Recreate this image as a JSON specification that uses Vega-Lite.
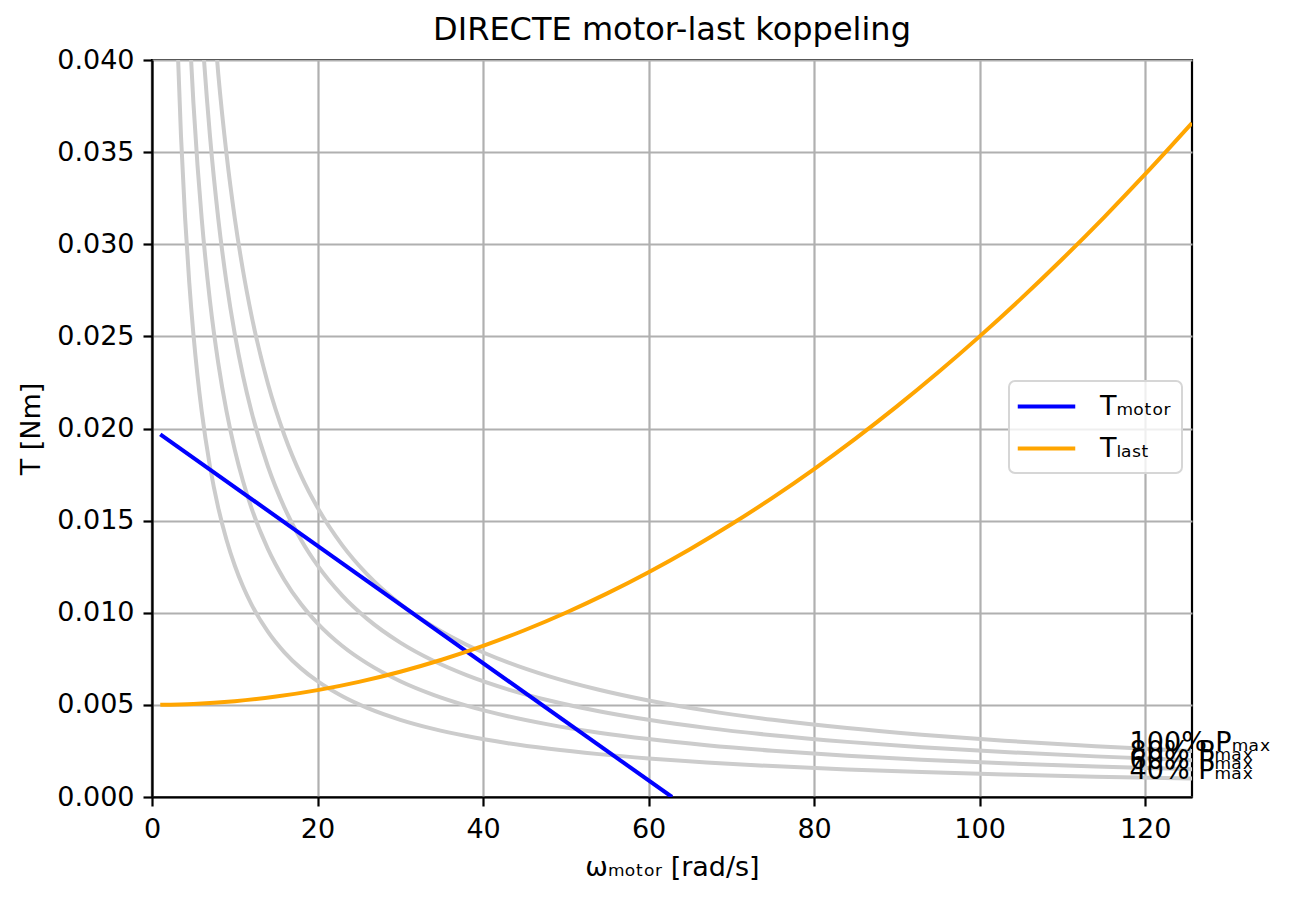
{
  "$schema": "https://vega.github.io/schema/vega-lite/v6.json",
  "width": 1040,
  "height": 737,
  "autosize": {"type": "none"},
  "padding": {"left": 152, "top": 60, "right": 98, "bottom": 103},
  "background": "white",
  "title": {
    "text": "DIRECTE motor-last koppeling",
    "fontSize": 32,
    "fontWeight": "normal",
    "color": "black",
    "anchor": "middle",
    "baseline": "alphabetic",
    "offset": 18,
    "dy": 44
  },
  "datasets": {
    "power": [
      {"p": "40%", "w": 2.5, "T": 0.050266}, {"p": "40%", "w": 3, "T": 0.041888}, {"p": "40%", "w": 3.5, "T": 0.035904},
      {"p": "40%", "w": 4, "T": 0.031416}, {"p": "40%", "w": 4.5, "T": 0.027925}, {"p": "40%", "w": 5, "T": 0.025133},
      {"p": "40%", "w": 5.5, "T": 0.022848}, {"p": "40%", "w": 6, "T": 0.020944}, {"p": "40%", "w": 7, "T": 0.017952},
      {"p": "40%", "w": 8, "T": 0.015708}, {"p": "40%", "w": 9, "T": 0.013963}, {"p": "40%", "w": 10, "T": 0.012566},
      {"p": "40%", "w": 11, "T": 0.011424}, {"p": "40%", "w": 12, "T": 0.010472}, {"p": "40%", "w": 14, "T": 0.008976},
      {"p": "40%", "w": 16, "T": 0.007854}, {"p": "40%", "w": 18, "T": 0.006981}, {"p": "40%", "w": 20, "T": 0.006283},
      {"p": "40%", "w": 23, "T": 0.005464}, {"p": "40%", "w": 26, "T": 0.004833}, {"p": "40%", "w": 30, "T": 0.004189},
      {"p": "40%", "w": 34, "T": 0.003696}, {"p": "40%", "w": 38, "T": 0.003307}, {"p": "40%", "w": 43, "T": 0.002922},
      {"p": "40%", "w": 48, "T": 0.002618}, {"p": "40%", "w": 54, "T": 0.002327}, {"p": "40%", "w": 60, "T": 0.002094},
      {"p": "40%", "w": 67, "T": 0.001876}, {"p": "40%", "w": 75, "T": 0.001676}, {"p": "40%", "w": 84, "T": 0.001496},
      {"p": "40%", "w": 93, "T": 0.001351}, {"p": "40%", "w": 103, "T": 0.00122}, {"p": "40%", "w": 114, "T": 0.001102},
      {"p": "40%", "w": 125.66, "T": 0.001},

      {"p": "60%", "w": 4, "T": 0.047124}, {"p": "60%", "w": 4.5, "T": 0.041888}, {"p": "60%", "w": 5, "T": 0.037699},
      {"p": "60%", "w": 5.5, "T": 0.034272}, {"p": "60%", "w": 6, "T": 0.031416}, {"p": "60%", "w": 7, "T": 0.026928},
      {"p": "60%", "w": 8, "T": 0.023562}, {"p": "60%", "w": 9, "T": 0.020944}, {"p": "60%", "w": 10, "T": 0.01885},
      {"p": "60%", "w": 11, "T": 0.017136}, {"p": "60%", "w": 12, "T": 0.015708}, {"p": "60%", "w": 14, "T": 0.013464},
      {"p": "60%", "w": 16, "T": 0.011781}, {"p": "60%", "w": 18, "T": 0.010472}, {"p": "60%", "w": 20, "T": 0.009425},
      {"p": "60%", "w": 23, "T": 0.008195}, {"p": "60%", "w": 26, "T": 0.00725}, {"p": "60%", "w": 30, "T": 0.006283},
      {"p": "60%", "w": 34, "T": 0.005544}, {"p": "60%", "w": 38, "T": 0.00496}, {"p": "60%", "w": 43, "T": 0.004384},
      {"p": "60%", "w": 48, "T": 0.003927}, {"p": "60%", "w": 54, "T": 0.003491}, {"p": "60%", "w": 60, "T": 0.003142},
      {"p": "60%", "w": 67, "T": 0.002813}, {"p": "60%", "w": 75, "T": 0.002513}, {"p": "60%", "w": 84, "T": 0.002244},
      {"p": "60%", "w": 93, "T": 0.002027}, {"p": "60%", "w": 103, "T": 0.00183}, {"p": "60%", "w": 114, "T": 0.001653},
      {"p": "60%", "w": 125.66, "T": 0.0015},

      {"p": "80%", "w": 5.5, "T": 0.045696}, {"p": "80%", "w": 6, "T": 0.041888}, {"p": "80%", "w": 7, "T": 0.035904},
      {"p": "80%", "w": 8, "T": 0.031416}, {"p": "80%", "w": 9, "T": 0.027925}, {"p": "80%", "w": 10, "T": 0.025133},
      {"p": "80%", "w": 11, "T": 0.022848}, {"p": "80%", "w": 12, "T": 0.020944}, {"p": "80%", "w": 14, "T": 0.017952},
      {"p": "80%", "w": 16, "T": 0.015708}, {"p": "80%", "w": 18, "T": 0.013963}, {"p": "80%", "w": 20, "T": 0.012566},
      {"p": "80%", "w": 23, "T": 0.010927}, {"p": "80%", "w": 26, "T": 0.009666}, {"p": "80%", "w": 30, "T": 0.008378},
      {"p": "80%", "w": 34, "T": 0.007392}, {"p": "80%", "w": 38, "T": 0.006614}, {"p": "80%", "w": 43, "T": 0.005845},
      {"p": "80%", "w": 48, "T": 0.005236}, {"p": "80%", "w": 54, "T": 0.004654}, {"p": "80%", "w": 60, "T": 0.004189},
      {"p": "80%", "w": 67, "T": 0.003751}, {"p": "80%", "w": 75, "T": 0.003351}, {"p": "80%", "w": 84, "T": 0.002992},
      {"p": "80%", "w": 93, "T": 0.002702}, {"p": "80%", "w": 103, "T": 0.00244}, {"p": "80%", "w": 114, "T": 0.002205},
      {"p": "80%", "w": 125.66, "T": 0.002},

      {"p": "100%", "w": 7, "T": 0.04488}, {"p": "100%", "w": 8, "T": 0.03927}, {"p": "100%", "w": 9, "T": 0.034907},
      {"p": "100%", "w": 10, "T": 0.031416}, {"p": "100%", "w": 11, "T": 0.02856}, {"p": "100%", "w": 12, "T": 0.02618},
      {"p": "100%", "w": 14, "T": 0.02244}, {"p": "100%", "w": 16, "T": 0.019635}, {"p": "100%", "w": 18, "T": 0.017453},
      {"p": "100%", "w": 20, "T": 0.015708}, {"p": "100%", "w": 23, "T": 0.013659}, {"p": "100%", "w": 26, "T": 0.012083},
      {"p": "100%", "w": 30, "T": 0.010472}, {"p": "100%", "w": 34, "T": 0.00924}, {"p": "100%", "w": 38, "T": 0.008267},
      {"p": "100%", "w": 43, "T": 0.007306}, {"p": "100%", "w": 48, "T": 0.006545}, {"p": "100%", "w": 54, "T": 0.005818},
      {"p": "100%", "w": 60, "T": 0.005236}, {"p": "100%", "w": 67, "T": 0.004689}, {"p": "100%", "w": 75, "T": 0.004189},
      {"p": "100%", "w": 84, "T": 0.00374}, {"p": "100%", "w": 93, "T": 0.003378}, {"p": "100%", "w": 103, "T": 0.00305},
      {"p": "100%", "w": 114, "T": 0.002756}, {"p": "100%", "w": 125.66, "T": 0.0025}
    ],
    "torque": [
      {"curve": "Tₘₒₜₒᵣ", "w": 1, "T": 0.019682},
      {"curve": "Tₘₒₜₒᵣ", "w": 62.83, "T": 0},
      {"curve": "Tₗₐₛₜ", "w": 1, "T": 0.005002}, {"curve": "Tₗₐₛₜ", "w": 5, "T": 0.00505},
      {"curve": "Tₗₐₛₜ", "w": 10, "T": 0.0052}, {"curve": "Tₗₐₛₜ", "w": 15, "T": 0.00545},
      {"curve": "Tₗₐₛₜ", "w": 20, "T": 0.0058}, {"curve": "Tₗₐₛₜ", "w": 25, "T": 0.00625},
      {"curve": "Tₗₐₛₜ", "w": 30, "T": 0.0068}, {"curve": "Tₗₐₛₜ", "w": 35, "T": 0.00745},
      {"curve": "Tₗₐₛₜ", "w": 40, "T": 0.0082}, {"curve": "Tₗₐₛₜ", "w": 45, "T": 0.00905},
      {"curve": "Tₗₐₛₜ", "w": 50, "T": 0.01}, {"curve": "Tₗₐₛₜ", "w": 55, "T": 0.01105},
      {"curve": "Tₗₐₛₜ", "w": 60, "T": 0.0122}, {"curve": "Tₗₐₛₜ", "w": 65, "T": 0.01345},
      {"curve": "Tₗₐₛₜ", "w": 70, "T": 0.0148}, {"curve": "Tₗₐₛₜ", "w": 75, "T": 0.01625},
      {"curve": "Tₗₐₛₜ", "w": 80, "T": 0.0178}, {"curve": "Tₗₐₛₜ", "w": 85, "T": 0.01945},
      {"curve": "Tₗₐₛₜ", "w": 90, "T": 0.0212}, {"curve": "Tₗₐₛₜ", "w": 95, "T": 0.02305},
      {"curve": "Tₗₐₛₜ", "w": 100, "T": 0.025}, {"curve": "Tₗₐₛₜ", "w": 105, "T": 0.02705},
      {"curve": "Tₗₐₛₜ", "w": 110, "T": 0.0292}, {"curve": "Tₗₐₛₜ", "w": 115, "T": 0.03145},
      {"curve": "Tₗₐₛₜ", "w": 120, "T": 0.0338}, {"curve": "Tₗₐₛₜ", "w": 125.66, "T": 0.03658}
    ],
    "labels": [
      {"label": "100% Pₘₐₓ", "w": 118.12, "T": 0.0025},
      {"label": "80% Pₘₐₓ", "w": 118.12, "T": 0.002},
      {"label": "60% Pₘₐₓ", "w": 118.12, "T": 0.0015},
      {"label": "40% Pₘₐₓ", "w": 118.12, "T": 0.001}
    ]
  },
  "encoding": {
    "x": {
      "field": "w",
      "type": "quantitative",
      "scale": {"domain": [0, 125.66], "nice": false, "zero": false},
      "axis": {
        "values": [0, 20, 40, 60, 80, 100, 120],
        "title": "ωₘₒₜₒᵣ [rad/s]",
        "titleY": 70,
        "titleBaseline": "middle",
        "labelPadding": 10
      }
    },
    "y": {
      "field": "T",
      "type": "quantitative",
      "scale": {"domain": [0, 0.04], "nice": false},
      "axis": {
        "values": [0, 0.005, 0.01, 0.015, 0.02, 0.025, 0.03, 0.035, 0.04],
        "format": ".3f",
        "title": "T [Nm]",
        "titleX": -121,
        "titleBaseline": "middle",
        "labelPadding": 9
      }
    }
  },
  "layer": [
    {
      "data": {"name": "power"},
      "mark": {"type": "line", "color": "#cccccc", "strokeWidth": 4, "clip": true, "interpolate": "monotone"},
      "encoding": {"detail": {"field": "p"}}
    },
    {
      "data": {"name": "torque"},
      "mark": {"type": "line", "strokeWidth": 4, "clip": true, "interpolate": "monotone"},
      "encoding": {
        "color": {
          "field": "curve",
          "type": "nominal",
          "scale": {"domain": ["Tₘₒₜₒᵣ", "Tₗₐₛₜ"], "range": ["#0000ff", "#ffa500"]},
          "legend": {
            "title": null,
            "orient": "none",
            "legendX": 857,
            "legendY": 321,
            "padding": 11,
            "strokeColor": "#d6d6d6",
            "cornerRadius": 6,
            "fillColor": "rgba(255,255,255,0.8)",
            "symbolType": "M-2.3,0H2.3",
            "symbolSize": 625,
            "symbolOffset": 12,
            "symbolStrokeWidth": 4,
            "labelFontSize": 27,
            "labelColor": "black",
            "labelOffset": 39,
            "rowPadding": 14
          }
        }
      }
    },
    {
      "data": {"name": "labels"},
      "mark": {"type": "text", "align": "left", "baseline": "alphabetic", "fontSize": 27, "color": "black"},
      "encoding": {"text": {"field": "label"}}
    }
  ],
  "config": {
    "font": "DejaVu Sans",
    "view": {"stroke": "black", "strokeWidth": 2.2},
    "axis": {
      "grid": true,
      "gridColor": "#b0b0b0",
      "gridWidth": 2.2,
      "domainColor": "black",
      "domainWidth": 2.2,
      "tickColor": "black",
      "tickWidth": 2.2,
      "tickSize": 9,
      "labelFontSize": 27,
      "labelColor": "black",
      "labelFlush": false,
      "labelOverlap": false,
      "titleFontSize": 27,
      "titleFontWeight": "normal",
      "titleColor": "black"
    },
    "legend": {"strokeWidth": 2}
  }
}
